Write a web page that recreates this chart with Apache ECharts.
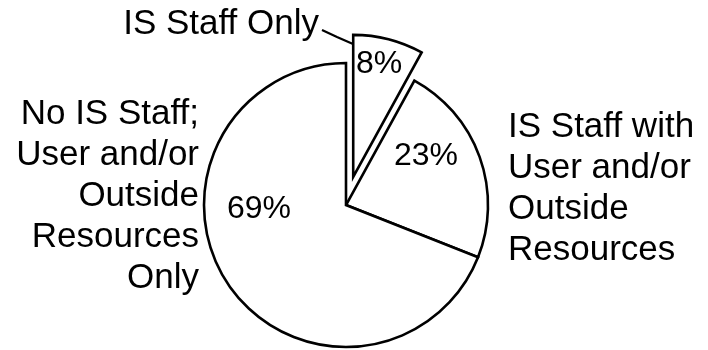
<!DOCTYPE html>
<html>
<head>
<meta charset="utf-8">
<script src="https://cdn.jsdelivr.net/npm/echarts@6/dist/echarts.min.js"></script>
<style>
html,body{margin:0;padding:0;background:#fff;}
#c{width:708px;height:350px;}
</style>
</head>
<body>
<div id="c"></div>
<script>
// ---- data ----
const categories = ['IS Staff Only', 'IS Staff with User and/or Outside Resources', 'No IS Staff; User and/or Outside Resources Only'];
const nameLabels = ['IS Staff Only', 'IS Staff with\nUser and/or\nOutside\nResources', 'No IS Staff;\nUser and/or\nOutside\nResources\nOnly'];
const values = [8, 23, 69];
const explodedIndex = 0;

// ---- label layout (positions/styles, not data) ----
const nameLayout = [
  {x: 319, y: 4, align: 'right', verticalAlign: 'top', labelLinePoints: [[322, 30], [337, 37], [353, 44]]},
  {x: 508, y: 107, align: 'left', verticalAlign: 'top'},
  {x: 199, y: 94, align: 'right', verticalAlign: 'top'}
];
const pctLayout = [
  {x: 379, y: 64, align: 'center', verticalAlign: 'middle'},
  {x: 426, y: 156, align: 'center', verticalAlign: 'middle'},
  {x: 259, y: 209, align: 'center', verticalAlign: 'middle'}
];
const FONT = '"Liberation Sans", Arial, Helvetica, sans-serif';
const CENTER = [346, 205];
const RADIUS = 142;

const chart = echarts.init(document.getElementById('c'), null, {renderer: 'canvas'});

const mainData = values.map((v, i) => ({name: categories[i], value: v, selected: i === explodedIndex}));
const nameData = values.map((v, i) => ({name: categories[i], value: v, labelLine: {show: i === explodedIndex}}));
const pctData = values.map((v, i) => ({name: categories[i], value: v}));

const basePie = {
  type: 'pie',
  center: CENTER,
  radius: RADIUS,
  startAngle: 90,
  clockwise: true,
  avoidLabelOverlap: false,
  emphasis: {disabled: true}
};

chart.setOption({
  backgroundColor: '#ffffff',
  animation: false,
  series: [
    Object.assign({}, basePie, {
      selectedMode: 'single',
      selectedOffset: 29,
      itemStyle: {color: '#ffffff', borderColor: '#000000', borderWidth: 2.6, borderJoin: 'miter'},
      select: {itemStyle: {color: '#ffffff', borderColor: '#000000', borderWidth: 2.6}},
      label: {show: false},
      labelLine: {show: false},
      data: mainData
    }),
    Object.assign({}, basePie, {
      silent: true,
      itemStyle: {color: 'rgba(0,0,0,0)', borderWidth: 0},
      label: {
        show: true,
        position: 'outside',
        formatter: p => nameLabels[p.dataIndex],
        fontFamily: FONT,
        fontSize: 35,
        lineHeight: 41,
        color: '#000000'
      },
      labelLine: {show: false, lineStyle: {color: '#000000', width: 2.2}},
      labelLayout: p => nameLayout[p.dataIndex],
      data: nameData
    }),
    Object.assign({}, basePie, {
      silent: true,
      itemStyle: {color: 'rgba(0,0,0,0)', borderWidth: 0},
      label: {
        show: true,
        position: 'inside',
        formatter: p => p.value + '%',
        fontFamily: FONT,
        fontSize: 32,
        color: '#000000'
      },
      labelLine: {show: false},
      labelLayout: p => pctLayout[p.dataIndex],
      data: pctData
    })
  ]
});
</script>
</body>
</html>
